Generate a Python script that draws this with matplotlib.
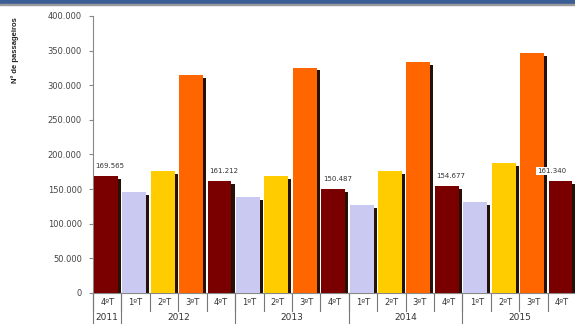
import matplotlib
matplotlib.use("Agg")
import matplotlib.pyplot as plt
from matplotlib.patches import Rectangle
from matplotlib.lines import Line2D
from matplotlib.ticker import FuncFormatter

# Passenger counts per quarter, 4ºT 2011 .. 4ºT 2015
quarters = ["4ºT",
            "1ºT", "2ºT", "3ºT", "4ºT",
            "1ºT", "2ºT", "3ºT", "4ºT",
            "1ºT", "2ºT", "3ºT", "4ºT",
            "1ºT", "2ºT", "3ºT", "4ºT"]
years = ["2011", "2012", "2013", "2014", "2015"]
year_counts = [1, 4, 4, 4, 4]
passengers = [169565,
              146400, 176300, 315000, 161212,
              138300, 169000, 325600, 150487,
              127200, 175500, 333500, 154677,
              132000, 187900, 346300, 161340]
labelled = {0: "169.565", 4: "161.212", 8: "150.487", 12: "154.677", 16: "161.340"}

quarter_colors = {"1ºT": "#C9C9F2", "2ºT": "#FFCC00", "3ºT": "#FF6600", "4ºT": "#7A0000"}

fig = plt.figure(figsize=(5.75, 3.24), dpi=100)
ax = fig.add_axes([93 / 575, 1 - 293 / 324, 1 - 93 / 575 + 0.002, (293 - 16) / 324])

x = list(range(len(passengers)))
bw = 0.84
off = -0.05
shadow_w = 0.11
shadow_drop = 4300

# dark side strip giving the bars a slight 3-D look
ax.bar([i + off + bw / 2 + shadow_w / 2 for i in x],
       [v - shadow_drop for v in passengers],
       width=shadow_w, color="#241208", zorder=2, linewidth=0)
ax.bar([i + off for i in x], passengers, width=bw,
       color=[quarter_colors[q] for q in quarters], zorder=3, linewidth=0)

for i, txt in labelled.items():
    dx = -0.35 if i == len(passengers) - 1 else 0.1
    ax.text(i + dx, passengers[i] + 10000, txt, ha="center", va="bottom",
            fontsize=5, color="#333333", zorder=5,
            bbox=dict(boxstyle="square,pad=0.15", fc="white", ec="none"))

ax.set_xlim(-0.5, len(passengers) - 0.5)
ax.set_ylim(0, 400000)
ax.set_yticks(range(0, 400001, 50000))
ax.yaxis.set_major_formatter(FuncFormatter(
    lambda v, p: "0" if v == 0 else f"{int(v):,}".replace(",", ".")))
ax.tick_params(axis="y", labelsize=6, labelcolor="#444444", color="#888888",
               length=3, width=0.8, pad=5)
ax.set_xticks([])
for s in ["top", "right"]:
    ax.spines[s].set_visible(False)
ax.spines["left"].set_color("#888888")
ax.spines["bottom"].set_color("#888888")

# category and year labels with separators below the axis
trans = ax.get_xaxis_transform()
for i, q in enumerate(quarters):
    ax.text(i, -0.018, q, transform=trans, ha="center", va="top",
            fontsize=6, color="#333333")
for b in range(len(quarters)):
    ax.add_line(Line2D([b - 0.5, b - 0.5], [0, -0.065], transform=trans,
                       color="#777777", lw=0.8, clip_on=False))
start = 0
for yr, n in zip(years, year_counts):
    ax.text(start + (n - 1) / 2, -0.072, yr, transform=trans, ha="center",
            va="top", fontsize=6.5, color="#333333")
    ax.add_line(Line2D([start - 0.5, start - 0.5], [0, -0.12], transform=trans,
                       color="#777777", lw=0.8, clip_on=False))
    start += n

fig.text(15 / 575, 1 - 50 / 324, "Nº de passageiros", rotation=90,
         ha="center", va="center", fontsize=5.5, fontweight="bold",
         family="Liberation Sans", color="#222222")

# frame band along the top edge
fig.patches.append(Rectangle((0, 1 - 4 / 324), 1, 4 / 324, transform=fig.transFigure,
                             color="#3C5E96", zorder=10))
fig.patches.append(Rectangle((0, 1 - 5 / 324), 1, 1 / 324, transform=fig.transFigure,
                             color="#9A9A9A", zorder=10))

fig.savefig("out.png", dpi=100, facecolor="white")
